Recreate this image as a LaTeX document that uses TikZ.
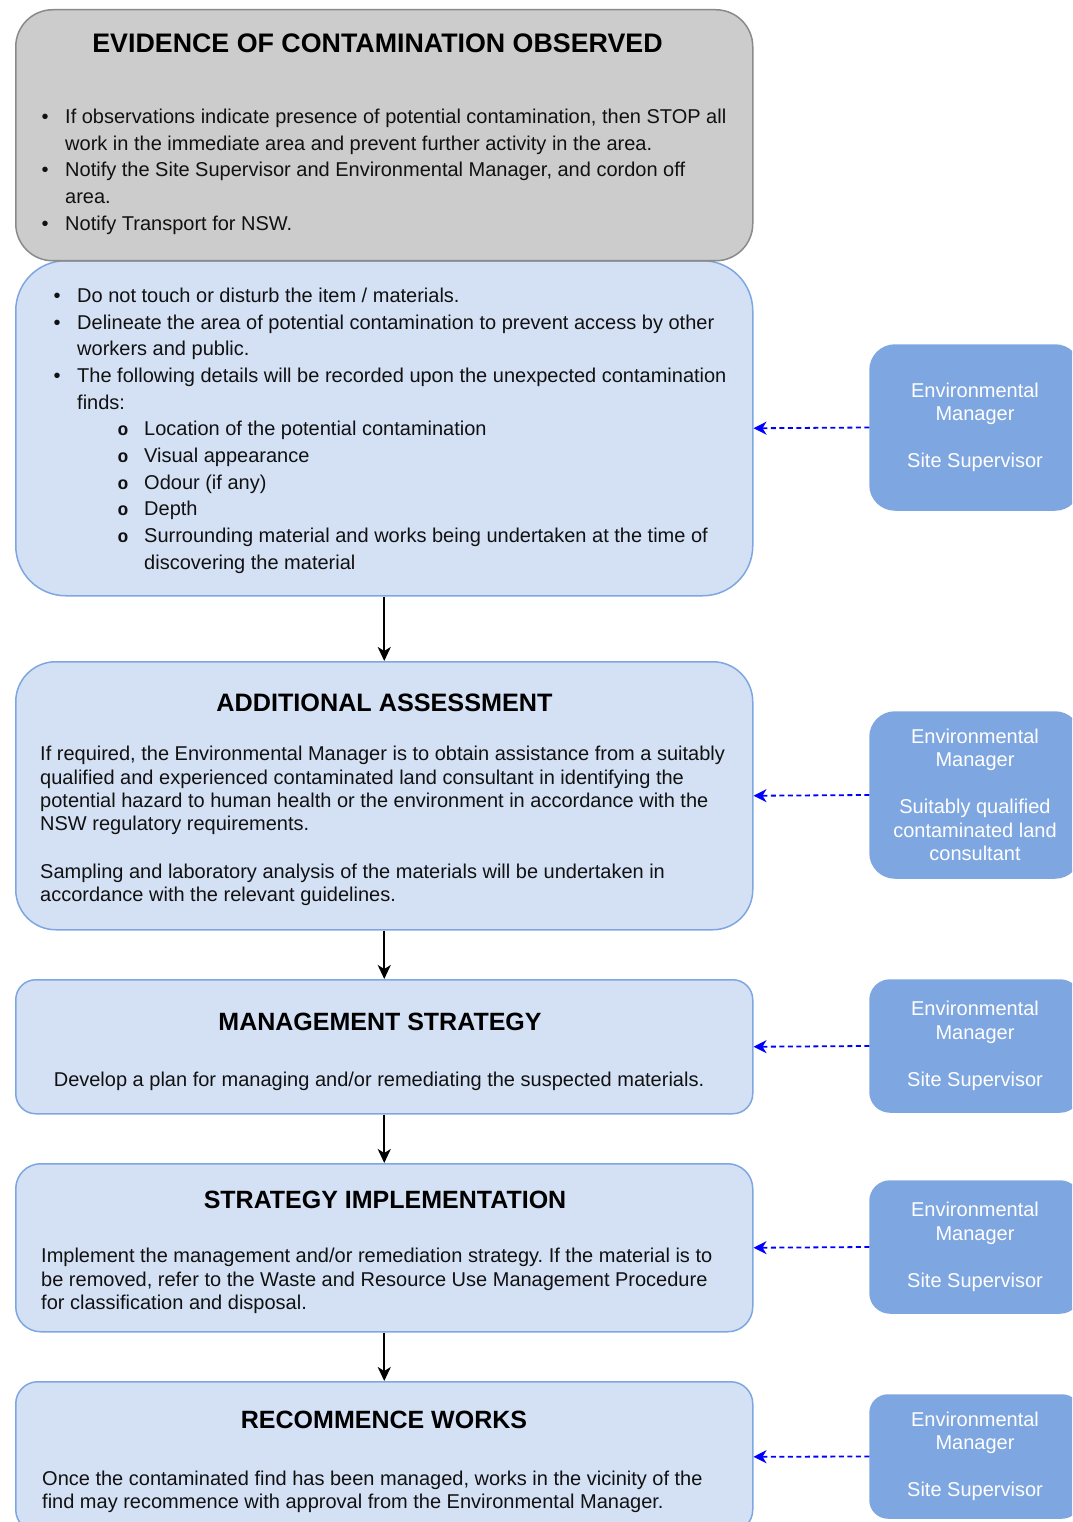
\documentclass[tikz,border=0pt]{standalone}
\usepackage{fontspec}
\setmainfont{Liberation Sans}
\newfontfamily\monofnt{Liberation Mono}
\usetikzlibrary{arrows.meta}
\frenchspacing
\definecolor{grayfill}{HTML}{CCCCCC}
\definecolor{graydraw}{HTML}{8A8A8A}
\definecolor{bluefill}{HTML}{D4E1F5}
\definecolor{bluedraw}{HTML}{7EA6E0}
\definecolor{rolefill}{HTML}{7EA6E0}
\definecolor{txt}{HTML}{111111}
\newcounter{lc}
\newcommand\tline[3]{\stepcounter{lc}\node[txtline] (L\the\value{lc}) at (#1,#2) {#3};}
\newcommand\ctline[3]{\stepcounter{lc}\node[ctrline] (L\the\value{lc}) at (#1,#2) {#3};}
\newcommand\bul[2]{\stepcounter{lc}\node[bullet] (B\the\value{lc}) at (#1,#2) {\textbullet};}
\newcommand\sbul[2]{\stepcounter{lc}\node[subbullet] (S\the\value{lc}) at (#1,#2) {o};}
\tikzset{
  txtline/.style={anchor=base west, inner sep=0, font=\fontsize{20}{24}\selectfont, text=txt},
  ctrline/.style={anchor=base, inner sep=0, font=\fontsize{20}{24}\selectfont, text=txt},
  bullet/.style={anchor=base, inner sep=0, font=\fontsize{20}{24}\selectfont, text=txt},
  subbullet/.style={anchor=base, inner sep=0, font=\fontsize{18}{20}\monofnt\bfseries, text=txt},
  titletext/.style={anchor=base, inner sep=0, text=black},
  graybox/.style={draw=graydraw, fill=grayfill, line width=1.5pt, anchor=north west, inner sep=0, minimum width=737pt},
  bluebox/.style={draw=bluedraw, fill=bluefill, line width=1.5pt, anchor=north west, inner sep=0, minimum width=737pt},
  rolebox/.style={draw=rolefill, fill=rolefill, line width=1.5pt, inner sep=0, minimum width=210pt,
    align=center, text=white, font=\fontsize{20}{23.5}\selectfont},
  flow/.style={draw=black, line width=2pt, -{Stealth[length=14pt, width=13pt, inset=4pt]}},
  rolelink/.style={draw={rgb,255:red,0;green,0;blue,255}, line width=1.8pt, dash pattern=on 5pt off 3.5pt,
    -{Stealth[length=13pt, width=13pt, inset=4pt]}},
}
\begin{document}
\begin{tikzpicture}[x=1pt, y=-1pt]
\useasboundingbox (0,0) rectangle (1072,1522);
\clip (0,0) rectangle (1072,1522);

% main boxes
\node[bluebox, minimum height=335pt, rounded corners=50pt] (b2) at (15,260) {};
\node[graybox, minimum height=251pt, rounded corners=37pt] (b1) at (15,9) {};
\node[bluebox, minimum height=268pt, rounded corners=40pt] (b3) at (15,661) {};
\node[bluebox, minimum height=134pt, rounded corners=20pt] (b4) at (15,979) {};
\node[bluebox, minimum height=168pt, rounded corners=25pt] (b5) at (15,1163) {};
\node[bluebox, minimum height=150pt, rounded corners=22pt] (b6) at (15,1381) {};

% role boxes
\node[rolebox, minimum height=165pt, rounded corners=25pt] (rA) at (975,427.5)
  {Environmental\\Manager\\[23.5pt]Site Supervisor};
\node[rolebox, minimum height=166pt, rounded corners=25pt] (rB) at (975,795)
  {Environmental\\Manager\\[23.5pt]Suitably qualified\\contaminated land\\consultant};
\node[rolebox, minimum height=132pt, rounded corners=20pt] (rC) at (975,1046)
  {Environmental\\Manager\\[23.5pt]Site Supervisor};
\node[rolebox, minimum height=132pt, rounded corners=20pt] (rD) at (975,1247)
  {Environmental\\Manager\\[23.5pt]Site Supervisor};
\node[rolebox, minimum height=123pt, rounded corners=18pt] (rE) at (975,1456.5)
  {Environmental\\Manager\\[23.5pt]Site Supervisor};

% connectors
\draw[flow] (b2.south) -- (b3.north);
\draw[flow] (b3.south) -- (b4.north);
\draw[flow] (b4.south) -- (b5.north);
\draw[flow] (b5.south) -- (b6.north);
\draw[rolelink] (rA.west) -- (b2.east);
\draw[rolelink] (rB.west) -- (b3.east);
\draw[rolelink] (rC.west) -- (b4.east);
\draw[rolelink] (rD.west) -- (b5.east);
\draw[rolelink] (rE.west) -- (b6.east);

% box 1
\node[titletext, font=\fontsize{26.8}{26.8}\selectfont\bfseries] (t1) at (377.5,53) {EVIDENCE OF CONTAMINATION OBSERVED};
\bul{45}{124}\bul{45}{177}\bul{45}{231}
\tline{65}{124}{If observations indicate presence of potential contamination, then STOP all}
\tline{65}{150.7}{work in the immediate area and prevent further activity in the area.}
\tline{65}{177}{Notify the Site Supervisor and Environmental Manager, and cordon off}
\tline{65}{204}{area.}
\tline{65}{231}{Notify Transport for NSW.}

% box 2
\bul{57}{302.3}\bul{57}{329}\bul{57}{382.3}
\tline{77}{302.3}{Do not touch or disturb the item / materials.}
\tline{77}{329}{Delineate the area of potential contamination to prevent access by other}
\tline{77}{355.7}{workers and public.}
\tline{77}{382.3}{The following details will be recorded upon the unexpected contamination}
\tline{77}{409}{finds:}
\sbul{123}{435.7}\sbul{123}{462.3}\sbul{123}{489}\sbul{123}{515.7}\sbul{123}{542.3}
\tline{144}{435.7}{Location of the potential contamination}
\tline{144}{462.3}{Visual appearance}
\tline{144}{489}{Odour (if any)}
\tline{144}{515.7}{Depth}
\tline{144}{542.3}{Surrounding material and works being undertaken at the time of}
\tline{144}{569}{discovering the material}

% box 3
\node[titletext, font=\fontsize{25.2}{25}\selectfont\bfseries] (t3) at (384.5,711.7) {ADDITIONAL ASSESSMENT};
\tline{40}{760.7}{If required, the Environmental Manager is to obtain assistance from a suitably}
\tline{40}{784.1}{qualified and experienced contaminated land consultant in identifying the}
\tline{40}{807.5}{potential hazard to human health or the environment in accordance with the}
\tline{40}{830.9}{NSW regulatory requirements.}
\tline{40}{878.3}{Sampling and laboratory analysis of the materials will be undertaken in}
\tline{40}{901.7}{accordance with the relevant guidelines.}

% box 4
\node[titletext, font=\fontsize{25}{25}\selectfont\bfseries] (t4) at (380,1030.7) {MANAGEMENT STRATEGY};
\ctline{379}{1086}{Develop a plan for managing and/or remediating the suspected materials.}

% box 5
\node[titletext, font=\fontsize{25}{25}\selectfont\bfseries] (t5) at (385,1208.3) {STRATEGY IMPLEMENTATION};
\tline{41}{1262.7}{Implement the management and/or remediation strategy. If the material is to}
\tline{41}{1286.1}{be removed, refer to the Waste and Resource Use Management Procedure}
\tline{41}{1309.5}{for classification and disposal.}

% box 6
\node[titletext, font=\fontsize{25}{25}\selectfont\bfseries] (t6) at (384,1428.3) {RECOMMENCE WORKS};
\tline{42}{1485}{Once the contaminated find has been managed, works in the vicinity of the}
\tline{42}{1508.4}{find may recommence with approval from the Environmental Manager.}
\end{tikzpicture}
\end{document}
